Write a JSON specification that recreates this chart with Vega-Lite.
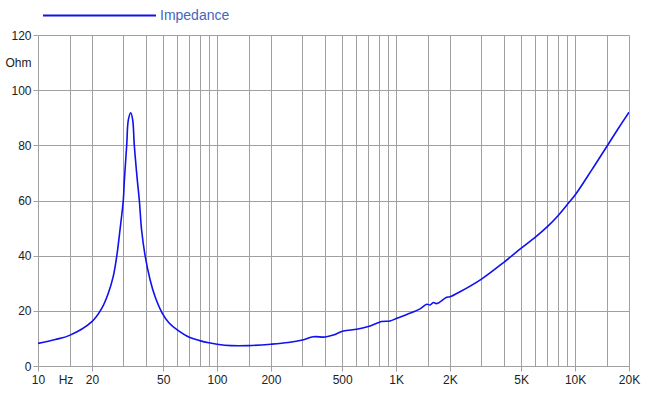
{
  "$schema": "https://vega.github.io/schema/vega-lite/v6.json",
  "width": 591,
  "height": 331,
  "autosize": {"type": "none"},
  "padding": {"left": 38, "top": 35, "right": 21, "bottom": 29},
  "background": "white",
  "config": {"view": {"stroke": null}, "font": "Liberation Sans"},
  "data": {
    "values": [
      {"f": 10, "Z": 8.2}, {"f": 12.5, "Z": 9.6}, {"f": 15, "Z": 11.1},
      {"f": 20, "Z": 16.1}, {"f": 22.7, "Z": 20.9}, {"f": 24.7, "Z": 26.4},
      {"f": 26.3, "Z": 32.4}, {"f": 27.5, "Z": 39.6}, {"f": 28.7, "Z": 49.3}, {"f": 29.96, "Z": 60.2},
      {"f": 30.35, "Z": 67.1}, {"f": 31.3, "Z": 80.1}, {"f": 31.96, "Z": 89.2}, {"f": 32.96, "Z": 91.8},
      {"f": 33.8, "Z": 89.2}, {"f": 34.5, "Z": 80.1}, {"f": 35.9, "Z": 67.1}, {"f": 36.8, "Z": 60.2},
      {"f": 37.9, "Z": 49.3}, {"f": 39.6, "Z": 40.2}, {"f": 42.3, "Z": 31.2}, {"f": 45.1, "Z": 25.1},
      {"f": 49.3, "Z": 19.3}, {"f": 54, "Z": 15.6}, {"f": 60, "Z": 13.1}, {"f": 70, "Z": 10.4},
      {"f": 80, "Z": 9.2}, {"f": 90, "Z": 8.4}, {"f": 100, "Z": 7.9},
      {"f": 120, "Z": 7.4}, {"f": 150, "Z": 7.4}, {"f": 200, "Z": 7.9}, {"f": 250, "Z": 8.5},
      {"f": 300, "Z": 9.4}, {"f": 345, "Z": 10.6}, {"f": 401, "Z": 10.5}, {"f": 446, "Z": 11.2},
      {"f": 508, "Z": 12.7}, {"f": 603, "Z": 13.3}, {"f": 700, "Z": 14.3}, {"f": 832, "Z": 16.1},
      {"f": 925, "Z": 16.3}, {"f": 1010, "Z": 17.3}, {"f": 1148, "Z": 18.7}, {"f": 1362, "Z": 20.7},
      {"f": 1484, "Z": 22.4}, {"f": 1548, "Z": 22.1}, {"f": 1615, "Z": 23.0}, {"f": 1687, "Z": 22.6},
      {"f": 1918, "Z": 24.9}, {"f": 2000, "Z": 25.1}, {"f": 2275, "Z": 26.9}, {"f": 3000, "Z": 31.5},
      {"f": 4000, "Z": 37.6}, {"f": 5000, "Z": 42.7}, {"f": 6000, "Z": 46.7}, {"f": 7000, "Z": 50.5},
      {"f": 8000, "Z": 54.4}, {"f": 9000, "Z": 58.4}, {"f": 10000, "Z": 62.0}, {"f": 12390, "Z": 71.1},
      {"f": 15000, "Z": 79.5}, {"f": 17460, "Z": 86.2}, {"f": 20000, "Z": 92.0}
    ]
  },
  "mark": {"type": "line", "interpolate": "catmull-rom", "strokeWidth": 1.6, "clip": true},
  "encoding": {
    "x": {
      "field": "f",
      "type": "quantitative",
      "scale": {"type": "log", "domain": [10, 20000], "nice": false},
      "axis": {
        "title": null,
        "domain": false,
        "values": [10, 15, 20, 30, 40, 50, 60, 70, 80, 90, 100, 150, 200, 300, 400, 500, 600, 700, 800, 900, 1000, 1500, 2000, 3000, 4000, 5000, 6000, 7000, 8000, 9000, 10000, 15000, 20000],
        "labelExpr": "indexof([10,15,20,50,100,200,500,1000,2000,5000,10000,20000], datum.value) < 0 ? '' : (datum.value == 15 ? 'Hz' : (datum.value >= 1000 ? (datum.value / 1000) + 'K' : '' + datum.value))",
        "labelOverlap": false,
        "labelFlush": false,
        "labelFontSize": 12,
        "labelColor": "#222222",
        "labelPadding": 3,
        "labelOffset": {"condition": {"test": "datum.value == 15", "value": -4}, "value": 0},
        "tickSize": 5,
        "tickColor": {"condition": {"test": "indexof([10,20,50,100,200,500,1000,2000,5000,10000,20000], datum.value) < 0", "value": "transparent"}, "value": "#a0a0a0"},
        "gridColor": "#a0a0a0",
        "gridOpacity": 1
      }
    },
    "y": {
      "field": "Z",
      "type": "quantitative",
      "scale": {"domain": [0, 120], "nice": false},
      "axis": {
        "title": null,
        "domain": false,
        "values": [0, 20, 40, 60, 80, 100, 110, 120],
        "labelExpr": "datum.value == 110 ? 'Ohm' : datum.label",
        "labelFontSize": 12,
        "labelColor": "#222222",
        "labelPadding": 2,
        "tickSize": 5,
        "tickColor": {"condition": {"test": "datum.value == 110", "value": "transparent"}, "value": "#a0a0a0"},
        "gridColor": {"condition": {"test": "datum.value == 110", "value": "transparent"}, "value": "#a0a0a0"},
        "gridOpacity": 1
      }
    },
    "color": {
      "datum": "Impedance",
      "type": "nominal",
      "scale": {"range": ["#1010f0"]},
      "legend": {
        "orient": "none",
        "legendX": 4,
        "legendY": -77,
        "title": null,
        "padding": 0,
        "symbolType": "stroke",
        "symbolSize": 12769,
        "symbolStrokeWidth": 2,
        "labelFontSize": 14,
        "labelColor": "#4466bb",
        "labelOffset": 3,
        "encode": {"symbols": {"update": {"stroke": {"value": "#4466bb"}}}}
      }
    }
  }
}
